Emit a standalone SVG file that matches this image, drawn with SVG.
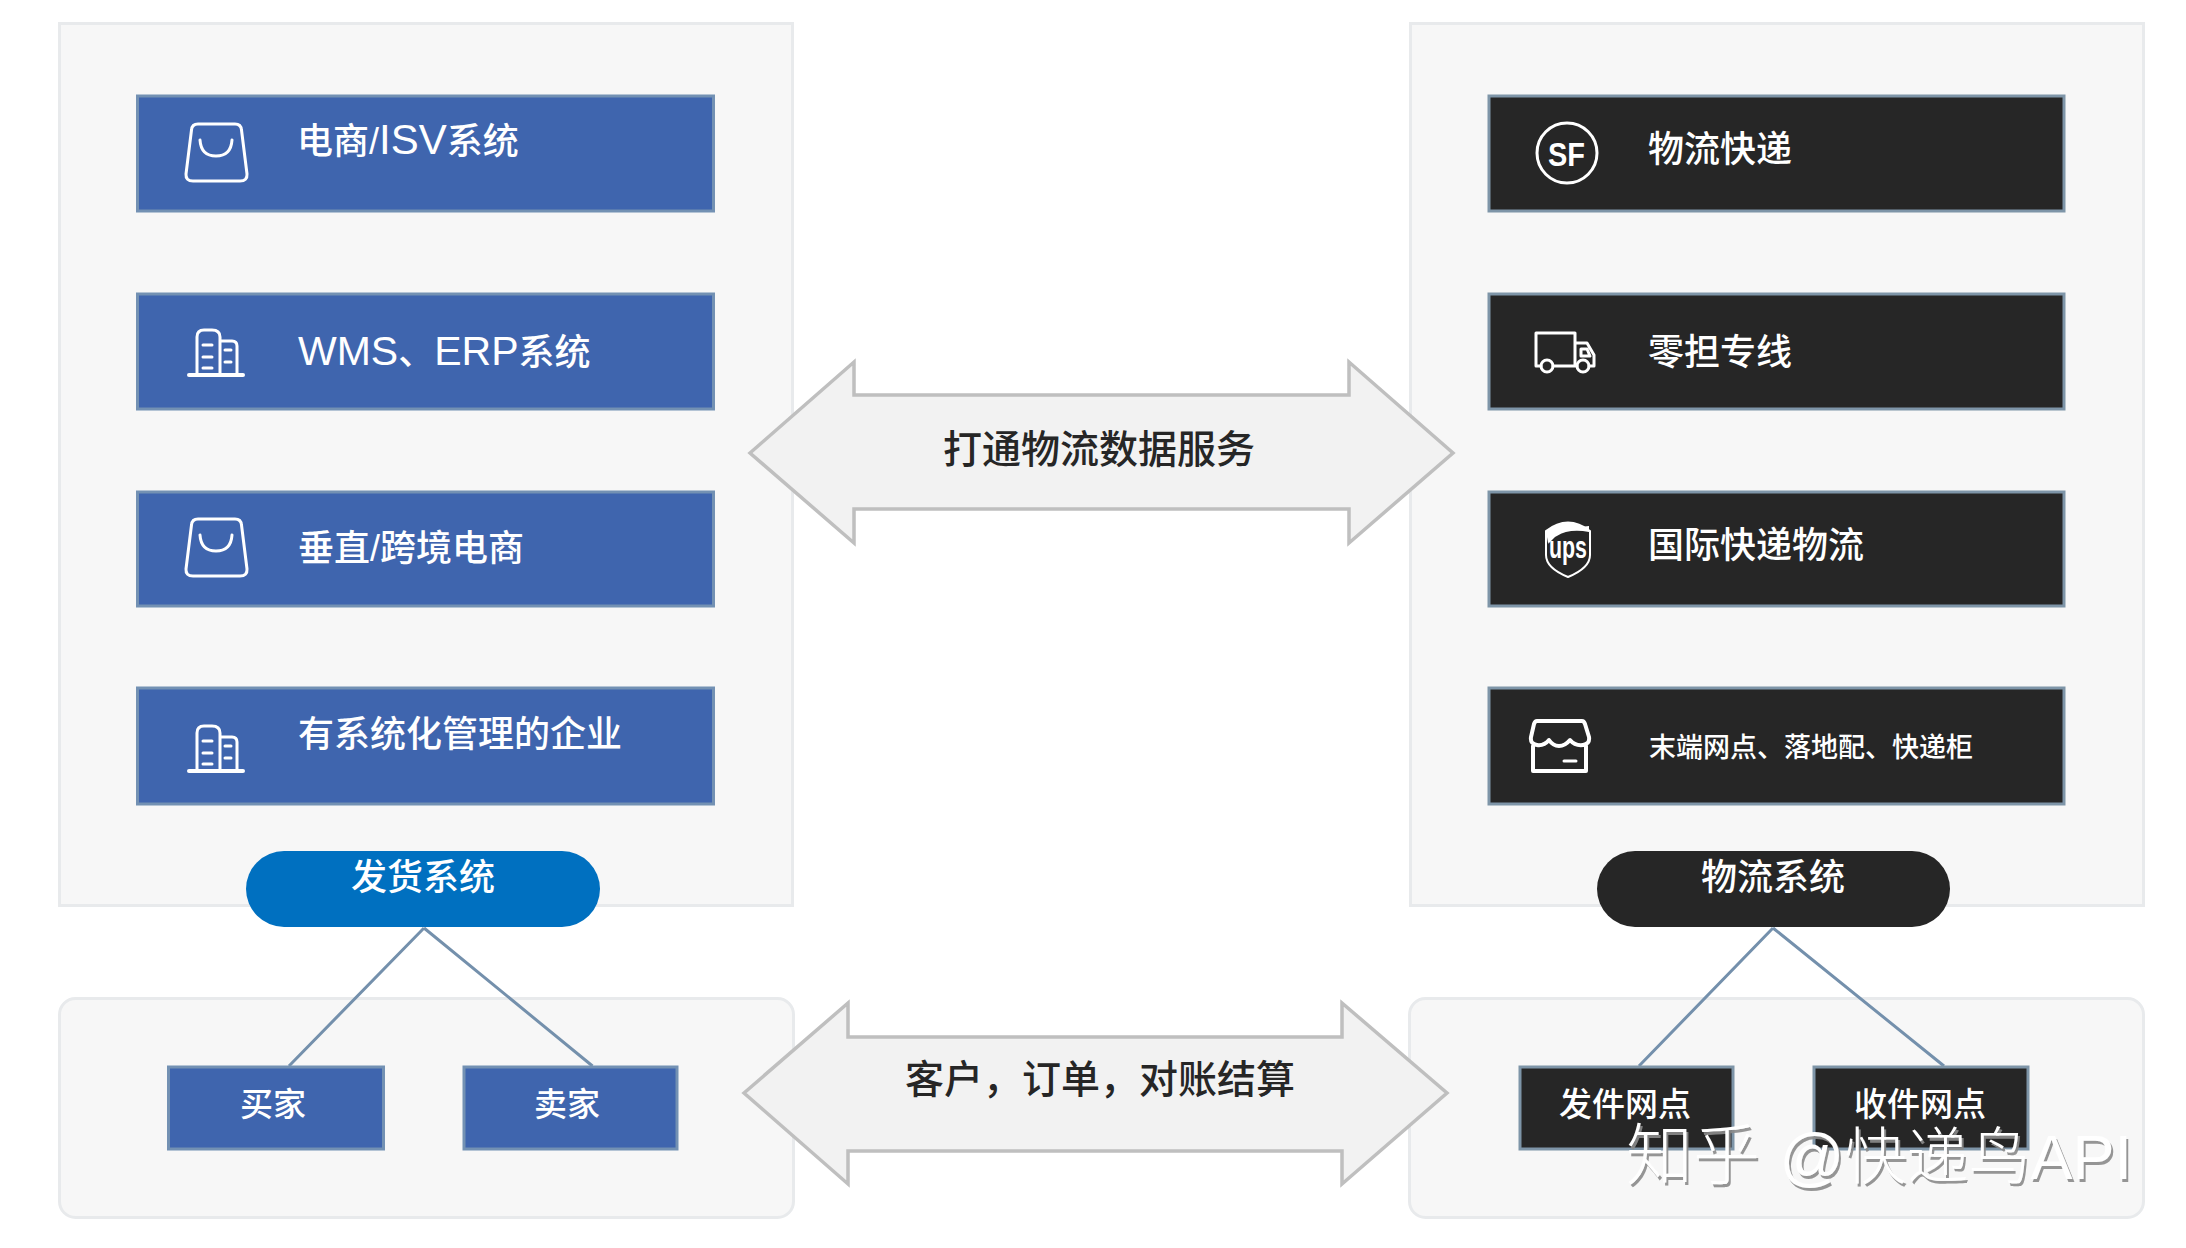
<svg xmlns="http://www.w3.org/2000/svg" width="2186" height="1248" viewBox="0 0 2186 1248">
<style>
text{font-family:"Liberation Sans","Noto Sans CJK SC",sans-serif}
.panel{fill:#f7f7f7;stroke:#e8eaec;stroke-width:3}
.blue{fill:#3f65ae;stroke:#7391b3;stroke-width:3}
.dark{fill:#262626;stroke:#7e95a8;stroke-width:3}
.t{fill:#fff;font-size:36px;font-weight:500}
.c{text-anchor:middle}
.lat{font-size:42px;font-weight:400}
.lat2{font-size:41px;font-weight:400}
.s{font-size:33px}
.arrow{fill:#f2f2f2;stroke:#bfbfbf;stroke-width:3.500}
.at{fill:#262626;font-size:39px;font-weight:500;text-anchor:middle}
.link{stroke:#7490ac;stroke-width:3;fill:none}
.ic{fill:none;stroke:#fff;stroke-width:3;stroke-linejoin:round;stroke-linecap:round}
.wm{fill:#fff;font-size:63px;font-weight:300;filter:url(#wmShadow)}
</style>
<defs>
<filter id="wmShadow" x="-5%" y="-20%" width="110%" height="140%"><feDropShadow dx="2" dy="3" stdDeviation="0.4" flood-color="#8a8a8a" flood-opacity="0.9"/></filter>
<g id="bag"><path class="ic" d="M198 124H235Q241 124 241.500 130L247 174Q247.500 181 240 181H193Q185.500 181 186 174L191.500 130Q192 124 198 124Z"/><path class="ic" d="M200 140Q201 156 216 156Q231 156 232 140"/></g>
<g id="building"><path class="ic" style="stroke-width:4" d="M189 375H243"/><path class="ic" d="M197 374V337Q197 330 204 330H212Q220 330 220 337V374M220 341H232Q237 341 237 346V374"/><path class="ic" d="M203 345H212M203 357H212M203 368H212M225 350H231M225 362H231"/></g>
</defs>

<rect width="2186" height="1248" fill="#fff"/>

<g id="panels">
<rect id="panel-shipper" class="panel" x="59.500" y="23.500" width="733" height="882"/>
<rect id="panel-logistics" class="panel" x="1410.500" y="23.500" width="733" height="882"/>
<rect id="panel-customer" class="panel" x="59.500" y="998.500" width="734" height="219" rx="16"/>
<rect id="panel-outlet" class="panel" x="1409.500" y="998.500" width="734" height="219" rx="16"/>
</g>

<g id="connectors">
<path class="link" d="M424 928L289 1066M424 928L592.500 1066"/>
<path class="link" d="M1773 928L1639 1066M1773 928L1944 1066"/>
</g>

<g id="arrow-data"><path class="arrow" d="M750 453L854 362V395H1349V362L1453 453L1349 543V509H854V543Z"/><text class="at" x="1099" y="463">打通物流数据服务</text></g>
<g id="arrow-customer"><path class="arrow" d="M744 1093L848 1003V1037H1342V1003L1447 1093L1342 1184V1151H848V1184Z"/><text class="at" x="1100" y="1093">客户，订单，对账结算</text></g>

<g id="node-isv"><rect class="blue" x="137.500" y="96" width="576" height="115"/><use href="#bag"/><text class="t" x="297" y="154">电商/<tspan class="lat">ISV</tspan>系统</text></g>
<g id="node-wms"><rect class="blue" x="137.500" y="294" width="576" height="115"/><use href="#building"/><text class="t" x="298" y="365"><tspan class="lat2">WMS</tspan>、<tspan class="lat2">ERP</tspan>系统</text></g>
<g id="node-vertical"><rect class="blue" x="137.500" y="492" width="576" height="114"/><use href="#bag" y="395"/><text class="t" x="298" y="561">垂直/跨境电商</text></g>
<g id="node-enterprise"><rect class="blue" x="137.500" y="688" width="576" height="116"/><use href="#building" y="396"/><text class="t" x="298" y="747">有系统化管理的企业</text></g>

<g id="node-express"><rect class="dark" x="1489" y="96" width="575" height="115"/><circle class="ic" cx="1567" cy="153" r="30"/><text x="1548" y="166" fill="#fff" font-size="34" font-weight="700" textLength="37" lengthAdjust="spacingAndGlyphs">SF</text><text class="t" x="1648" y="162">物流快递</text></g>
<g id="node-ltl"><rect class="dark" x="1489" y="294" width="575" height="115"/><path class="ic" d="M1541 366H1536V333H1575V366H1553M1575 343H1587L1594 355V366H1589M1577 366H1575M1581 349H1587L1590 356H1581Z"/><circle class="ic" cx="1547" cy="366" r="6"/><circle class="ic" cx="1583" cy="366" r="6"/><text class="t" x="1648" y="365">零担专线</text></g>
<g id="node-intl"><rect class="dark" x="1489" y="492" width="575" height="114"/><path class="ic" style="stroke-width:2" d="M1546 531Q1568 514 1590 531V555Q1590 568 1568 577Q1546 568 1546 555Z"/><path d="M1548 544Q1552 529 1589 526V532Q1570 528 1556 536Z M1546 531Q1568 514 1590 531Q1568 524 1548 543Z" fill="#fff"/><text x="1549" y="558" fill="#fff" font-size="32" font-weight="700" textLength="38" lengthAdjust="spacingAndGlyphs">ups</text><text class="t" x="1648" y="558">国际快递物流</text></g>
<g id="node-terminal"><rect class="dark" x="1489" y="688" width="575" height="116"/><path class="ic" style="stroke-width:4" d="M1537 721H1582Q1584 721 1585 724L1589 737Q1590 744 1583 745Q1575 746 1570 740Q1565 746 1559 746Q1553 746 1549 740Q1544 746 1537 745Q1530 744 1531 737L1534 724Q1535 721 1537 721ZM1533 746V771H1586V746"/><path class="ic" d="M1564 761H1576"/><text fill="#fff" font-size="27" font-weight="500" x="1649" y="757">末端网点、落地配、快递柜</text></g>

<g id="node-shipper-system"><rect x="246" y="851" width="354" height="76" rx="38" fill="#0070c0"/><text class="t c" x="423" y="890">发货系统</text></g>
<g id="node-logistics-system"><rect x="1597" y="851" width="353" height="76" rx="38" fill="#262626"/><text class="t c" x="1773" y="890">物流系统</text></g>

<g id="node-buyer"><rect class="blue" x="168.500" y="1067" width="215" height="82"/><text class="t s c" x="273" y="1116">买家</text></g>
<g id="node-seller"><rect class="blue" x="464" y="1067" width="213" height="82"/><text class="t s c" x="567" y="1116">卖家</text></g>
<g id="node-send"><rect class="dark" x="1520" y="1067" width="213" height="82"/><text class="t s c" x="1625" y="1116">发件网点</text></g>
<g id="node-receive"><rect class="dark" x="1814" y="1067" width="214" height="82"/><text class="t s c" x="1920" y="1116">收件网点</text></g>

<text class="wm" x="1626" y="1179"><tspan font-size="67">知乎</tspan> <tspan dx="2" font-size="64">@</tspan><tspan font-size="62">快递鸟</tspan>API</text>
</svg>
